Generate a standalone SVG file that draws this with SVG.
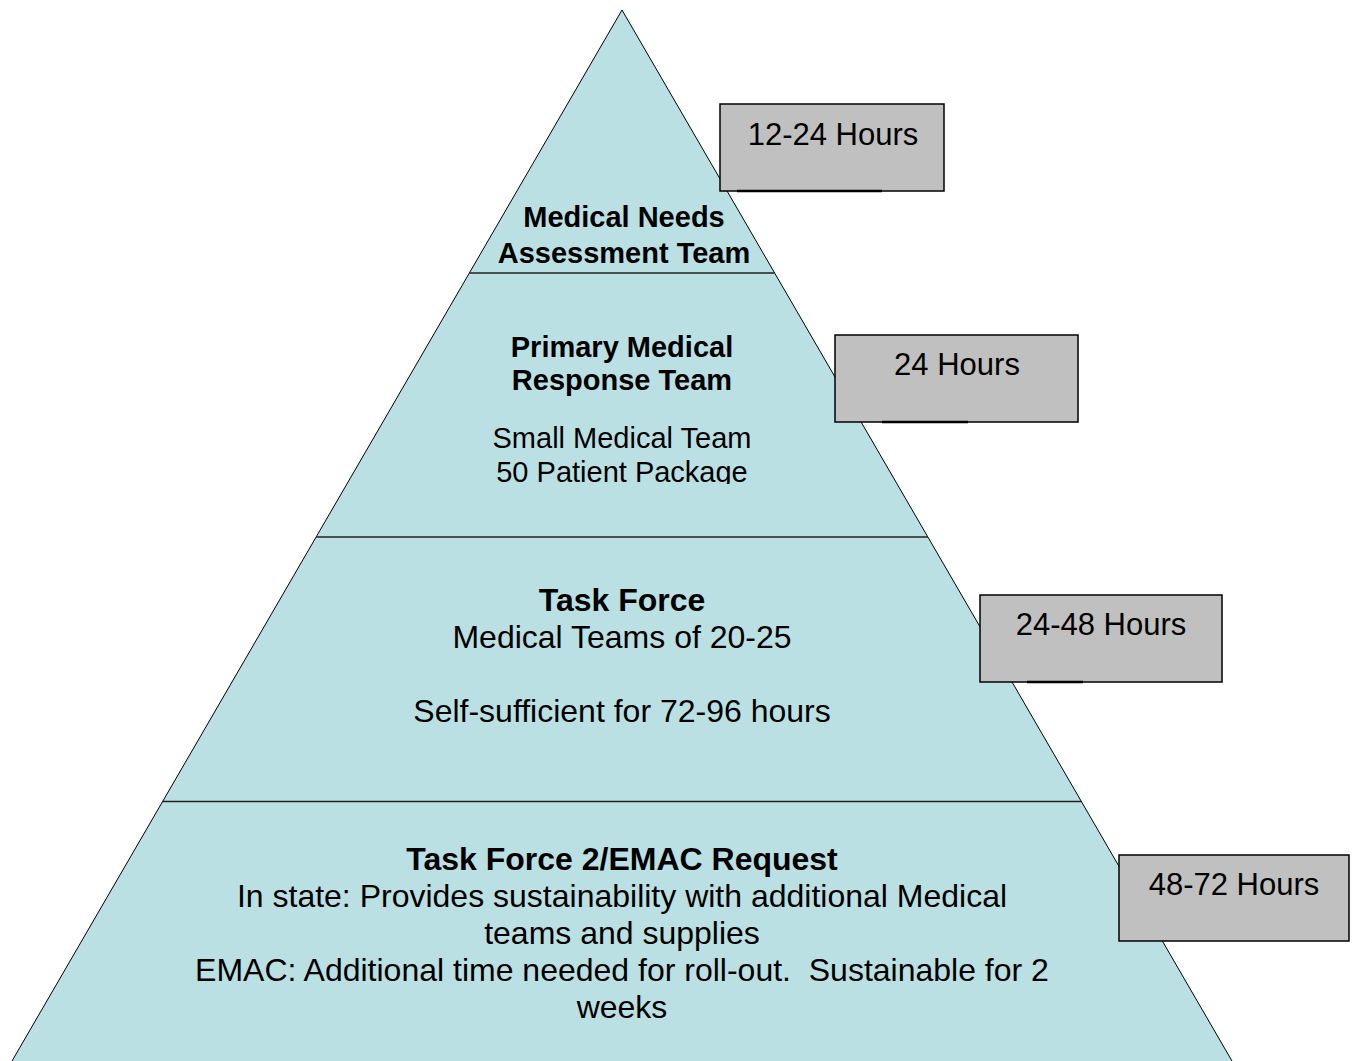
<svg xmlns="http://www.w3.org/2000/svg" width="1354" height="1061" viewBox="0 0 1354 1061">
<style>
.tier{fill:#BAE0E3;stroke:none}
.edge{fill:none;stroke:#000;stroke-width:1}
.div{stroke:#222;stroke-width:1.3}
.box{fill:#C0C0C0;stroke:#000;stroke-width:1.5}
.shadow{stroke:#000;stroke-width:2.5}
text{font-family:"Liberation Sans",Arial,sans-serif;fill:#000;text-anchor:middle}
.b{font-weight:bold}
.t29{font-size:29px}
.t32{font-size:32px}
.h{font-size:31px}
</style>
<defs>
<clipPath id="clip2"><rect x="300" y="273" width="700" height="211"/></clipPath>
</defs>
<rect width="1354" height="1061" fill="#fff"/>
<g id="tier1">
<polygon class="tier" points="622,10 774.6,273 469.4,273"/>
<text class="b t29" x="624" y="227">Medical Needs</text>
<text class="b t29" x="624" y="263">Assessment Team</text>
</g>
<g id="tier2">
<polygon class="tier" points="469.4,273 774.6,273 927.9,537 316.1,537"/>
<text class="b t29" x="622" y="357">Primary Medical</text>
<text class="b t29" x="622" y="390">Response Team</text>
<g clip-path="url(#clip2)">
<text class="t29" x="622" y="448">Small Medical Team</text>
<text class="t29" x="622" y="482">50 Patient Package</text>
</g>
</g>
<g id="tier3">
<polygon class="tier" points="316.1,537 927.9,537 1081.4,801.5 162.6,801.5"/>
<text class="b t32" x="622" y="611">Task Force</text>
<text class="t32" x="622" y="648">Medical Teams of 20-25</text>
<text class="t32" x="622" y="722">Self-sufficient for 72-96 hours</text>
</g>
<g id="tier4">
<polygon class="tier" points="162.6,801.5 1081.4,801.5 1232,1061 12,1061"/>
<text class="b t32" x="622" y="870">Task Force 2/EMAC Request</text>
<text class="t32" x="622" y="907">In state: Provides sustainability with additional Medical</text>
<text class="t32" x="622" y="944">teams and supplies</text>
<text class="t32" x="622" y="981" xml:space="preserve">EMAC: Additional time needed for roll-out.  Sustainable for 2</text>
<text class="t32" x="622" y="1018">weeks</text>
</g>
<g id="connectors">
<polyline class="edge" points="12,1061 622,10 1232,1061"/>
<line class="div" x1="469.4" y1="273" x2="774.6" y2="273"/>
<line class="div" x1="316.1" y1="537" x2="927.9" y2="537"/>
<line class="div" x1="162.6" y1="801.5" x2="1081.4" y2="801.5"/>
</g>
<g id="box1">
<rect class="box" x="720" y="104" width="224" height="87"/>
<line class="shadow" x1="737" y1="191" x2="882" y2="191"/>
<text class="h" x="833" y="145">12-24 Hours</text>
</g>
<g id="box2">
<rect class="box" x="835" y="335" width="243" height="87"/>
<line class="shadow" x1="882" y1="422" x2="968" y2="422"/>
<text class="h" x="957" y="375">24 Hours</text>
</g>
<g id="box3">
<rect class="box" x="980" y="595" width="242" height="87"/>
<line class="shadow" x1="1027" y1="682" x2="1083" y2="682"/>
<text class="h" x="1101" y="635">24-48 Hours</text>
</g>
<g id="box4">
<rect class="box" x="1119" y="855" width="230" height="86"/>
<text class="h" x="1234" y="895">48-72 Hours</text>
</g>
</svg>
